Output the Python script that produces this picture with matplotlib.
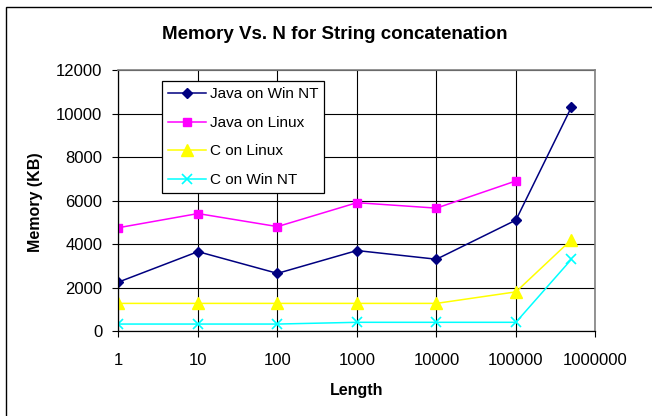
import numpy as np
import matplotlib
matplotlib.use('Agg')
import matplotlib.pyplot as plt
from matplotlib.patches import Rectangle
from matplotlib.ticker import FixedLocator, NullLocator

plt.rcParams['font.family'] = ['Liberation Sans', 'DejaVu Sans']

# data (memory in KB)
lengths = [1, 10, 100, 1000, 10000, 100000, 500000]
java_winnt = [2250, 3650, 2650, 3700, 3300, 5100, 10300]
java_linux = [4750, 5400, 4800, 5900, 5650, 6900, np.nan]  # no point at 500000
c_linux = [1270, 1270, 1270, 1270, 1270, 1800, 4200]
c_winnt = [320, 320, 320, 400, 400, 400, 3300]

x_ticks = [1, 10, 100, 1000, 10000, 100000, 1000000]
x_labels = ['1', '10', '100', '1000', '10000', '100000', '1000000']
y_ticks = [0, 2000, 4000, 6000, 8000, 10000, 12000]

fig = plt.figure(figsize=(6.52, 4.16), dpi=100)
ax = fig.add_axes([0.1817, 0.2043, 0.7315, 0.6274])

ax.plot(lengths, java_winnt, color='#000080', marker='D', markersize=5.5,
        lw=1.1, label='Java on Win NT')
ax.plot(lengths, java_linux, color='#FF00FF', marker='s', markersize=6,
        lw=1.1, label='Java on Linux')
ax.plot(lengths, c_linux, color='#FFFF00', marker='^', markersize=8,
        lw=1.1, label='C on Linux')
ax.plot(lengths, c_winnt, color='#00FFFF', marker='x', markersize=6.5,
        markeredgewidth=1.2, lw=1.1, label='C on Win NT')

ax.set_xscale('log')
ax.set_xlim(1, 1000000)
ax.set_ylim(0, 12000)
ax.xaxis.set_major_locator(FixedLocator(x_ticks))
ax.xaxis.set_minor_locator(NullLocator())
ax.set_xticklabels(x_labels)
ax.set_yticks(y_ticks)
ax.set_yticklabels([str(v) for v in y_ticks])

ax.grid(True, color='black', lw=0.8)
ax.set_axisbelow(True)
ax.tick_params(axis='both', labelsize=12, length=4.5, width=0.8, color='black')
ax.tick_params(axis='x', pad=11)
ax.tick_params(axis='y', pad=7)
for side in ['top', 'right']:
    ax.spines[side].set_color('#808080')
    ax.spines[side].set_linewidth(1.2)
for side in ['left', 'bottom']:
    ax.spines[side].set_color('black')
    ax.spines[side].set_linewidth(0.9)

leg = ax.legend(loc='upper left', bbox_to_anchor=(0.0912, 0.957),
                borderaxespad=0, fontsize=11, frameon=True, fancybox=False,
                edgecolor='black', framealpha=1, handlelength=2.5,
                handletextpad=0.22, labelspacing=0.95, borderpad=0.4)
leg.get_frame().set_linewidth(0.9)

fig.text(0.514, 0.9055, 'Memory Vs. N for String concatenation', ha='center',
         va='baseline', fontsize=13.5, fontweight='bold')
fig.text(0.055, 0.514, 'Memory (KB)', rotation=90, ha='center',
         va='center', fontsize=11.5, fontweight='bold')
fig.text(0.547, 0.0605, 'Length', ha='center', va='center',
         fontsize=11.5, fontweight='bold')

# chart area border (only left and top edges fall inside the picture)
fig.patches.append(Rectangle((6 / 652, -0.5), 2, 0.5 + (1 - 7 / 416),
                             transform=fig.transFigure, fill=False,
                             edgecolor='black', lw=1.0))

fig.savefig('out.png', dpi=100)
